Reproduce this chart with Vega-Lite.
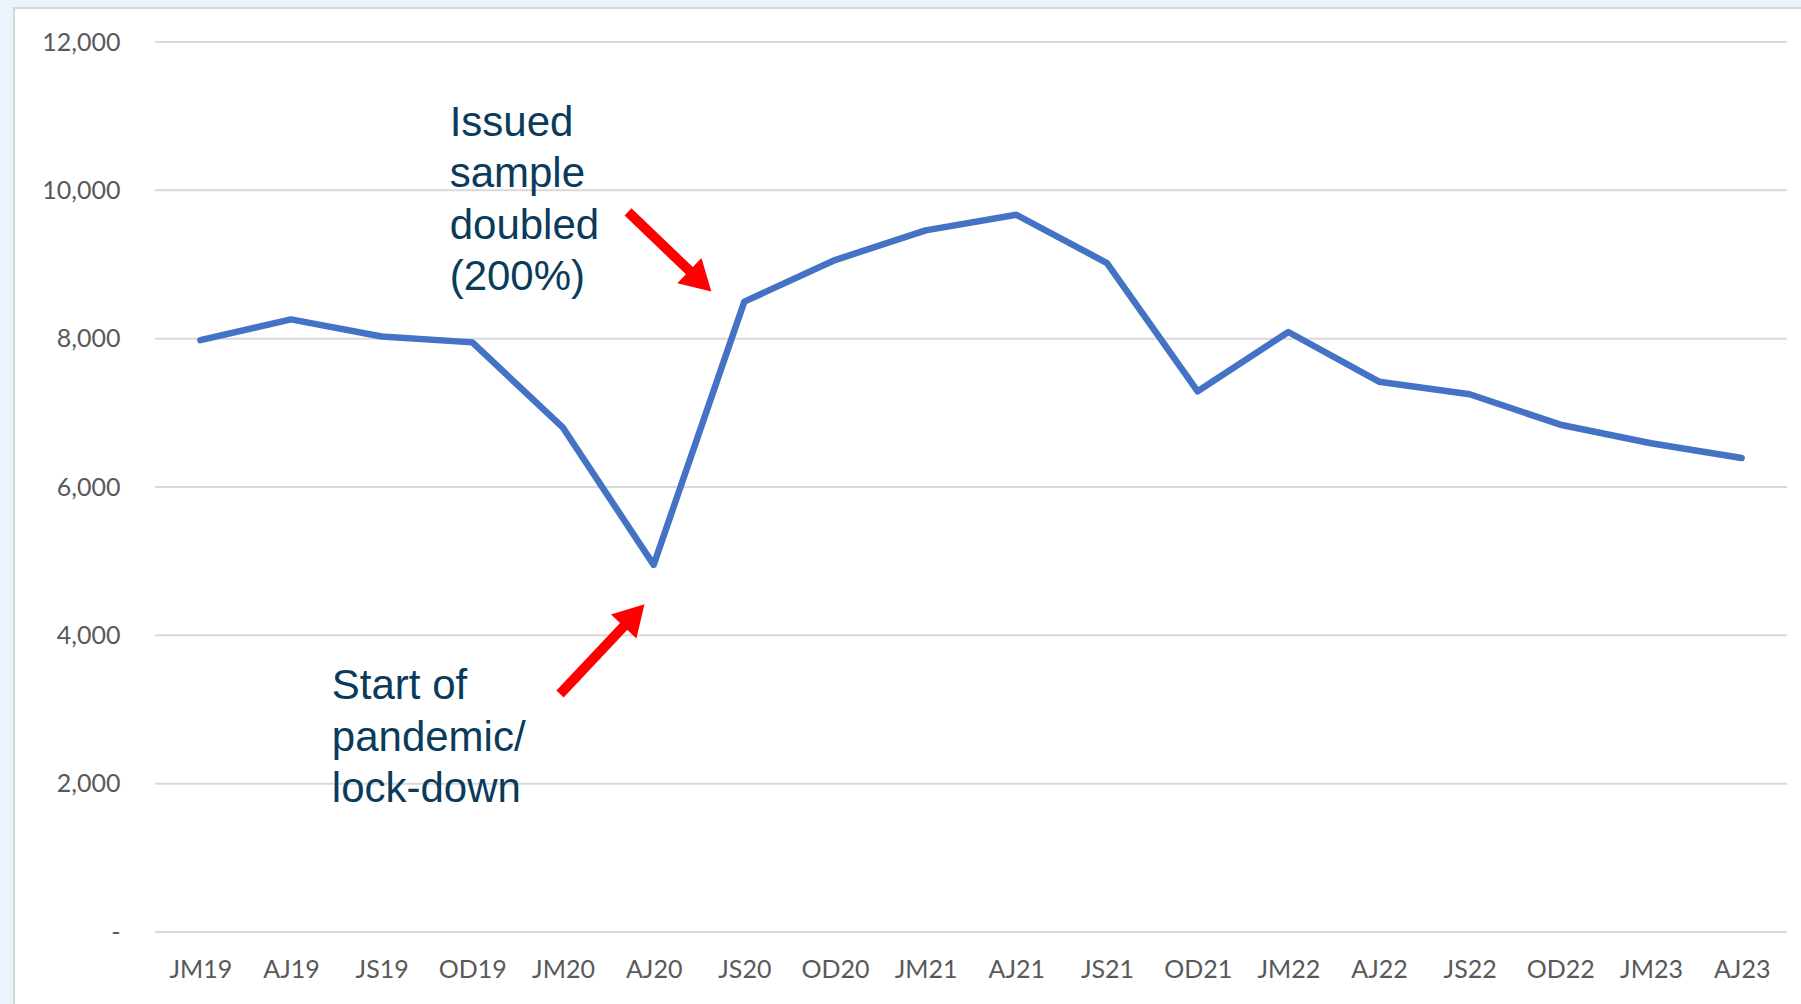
{
  "$schema": "https://vega.github.io/schema/vega-lite/v6.json",
  "width": 1632,
  "height": 890,
  "autosize": {"type": "none"},
  "padding": {"left": 155, "top": 42, "right": 14, "bottom": 72},
  "background": "#FFFFFF",
  "config": {"view": {"stroke": null}, "axis": {"zindex": 1}},
  "resolve": {"scale": {"x": "independent"}},
  "layer": [
    {
      "data": {"values": [{}]},
      "mark": {"type": "rect", "fill": "#EAF4FA", "clip": false},
      "encoding": {
        "x": {"datum": -1.75, "type": "quantitative", "scale": {"domain": [0, 18], "nice": false, "zero": false}, "axis": null},
        "x2": {"datum": -1.555},
        "y": {"datum": 12700, "type": "quantitative", "scale": {"domain": [0, 12000], "nice": false}},
        "y2": {"datum": -1100}
      }
    },
    {
      "data": {"values": [{}]},
      "mark": {"type": "rect", "fill": "#EAF4FA", "clip": false},
      "encoding": {
        "x": {"datum": -1.75, "type": "quantitative", "scale": {"domain": [0, 18], "nice": false, "zero": false}, "axis": null},
        "x2": {"datum": 19.5},
        "y": {"datum": 12700, "type": "quantitative", "scale": {"domain": [0, 12000], "nice": false}},
        "y2": {"datum": 12458}
      }
    },
    {
      "data": {"values": [{}]},
      "mark": {"type": "rect", "fill": null, "fillOpacity": 0, "stroke": "#D6D6D6", "strokeWidth": 2, "clip": false},
      "encoding": {
        "x": {"datum": -1.555, "type": "quantitative", "scale": {"domain": [0, 18], "nice": false, "zero": false}, "axis": null},
        "x2": {"datum": 19.5},
        "y": {"datum": 12458, "type": "quantitative", "scale": {"domain": [0, 12000], "nice": false}},
        "y2": {"datum": -2000}
      }
    },
    {
      "data": {"values": [{"g": 0}, {"g": 2000}, {"g": 4000}, {"g": 6000}, {"g": 8000}, {"g": 10000}, {"g": 12000}]},
      "mark": {"type": "rule", "stroke": "#D9D9D9", "strokeWidth": 2},
      "encoding": {
        "y": {
          "field": "g", "type": "quantitative", "scale": {"domain": [0, 12000], "nice": false},
          "axis": {"orient": "left", "title": null, "values": [0, 2000, 4000, 6000, 8000, 10000, 12000], "grid": false, "ticks": false, "domain": false,
                   "labelExpr": "datum.value == 0 ? '-\u00a0\u00a0\u00a0' : format(datum.value, ',')",
                   "labelFont": "Lato", "labelFontSize": 25,
                   "labelColor": "#595959", "labelPadding": 35, "zindex": 1}
        }
      }
    },
    {
      "data": {"values": [
        {"quarter": "JM19", "value": 7980},
        {"quarter": "AJ19", "value": 8260},
        {"quarter": "JS19", "value": 8030},
        {"quarter": "OD19", "value": 7950},
        {"quarter": "JM20", "value": 6800},
        {"quarter": "AJ20", "value": 4950},
        {"quarter": "JS20", "value": 8500},
        {"quarter": "OD20", "value": 9060},
        {"quarter": "JM21", "value": 9460},
        {"quarter": "AJ21", "value": 9670},
        {"quarter": "JS21", "value": 9020},
        {"quarter": "OD21", "value": 7290},
        {"quarter": "JM22", "value": 8090},
        {"quarter": "AJ22", "value": 7420},
        {"quarter": "JS22", "value": 7250},
        {"quarter": "OD22", "value": 6840},
        {"quarter": "JM23", "value": 6590},
        {"quarter": "AJ23", "value": 6390}
      ]},
      "mark": {"type": "line", "color": "#4472C4", "strokeWidth": 6.5, "strokeJoin": "round", "strokeCap": "round"},
      "encoding": {
        "x": {
          "field": "quarter", "type": "ordinal", "sort": null,
          "scale": {"type": "point", "padding": 0.5},
          "axis": {"orient": "bottom", "title": null, "labelAngle": 0, "ticks": false, "domain": false, "grid": false,
                   "labelFont": "Lato", "labelFontSize": 25,
                   "labelColor": "#595959", "labelPadding": 25, "zindex": 1}
        },
        "y": {
          "field": "value", "type": "quantitative",
          "scale": {"domain": [0, 12000], "nice": false}
        }
      }
    },
    {
      "data": {"values": [
        {"q1": 5.217, "v1": 9708, "q2": 6.015, "v2": 8776},
        {"q1": 4.467, "v1": 3209, "q2": 5.284, "v2": 4269}
      ]},
      "mark": {"type": "rule", "color": "#FF0000", "strokeWidth": 10, "strokeCap": "butt"},
      "encoding": {
        "x": {"field": "q1", "type": "quantitative", "scale": {"domain": [0, 18], "nice": false, "zero": false}, "axis": null},
        "x2": {"field": "q2"},
        "y": {"field": "v1", "type": "quantitative", "scale": {"domain": [0, 12000], "nice": false}},
        "y2": {"field": "v2"}
      }
    },
    {
      "data": {"values": [
        {"q": 6.015, "v": 8776, "angle": 133.6},
        {"q": 5.284, "v": 4269, "angle": 43.3}
      ]},
      "mark": {"type": "point", "shape": "triangle-up", "filled": true, "color": "#FF0000", "opacity": 1, "size": 1225},
      "encoding": {
        "x": {"field": "q", "type": "quantitative", "scale": {"domain": [0, 18], "nice": false, "zero": false}, "axis": null},
        "y": {"field": "v", "type": "quantitative", "scale": {"domain": [0, 12000], "nice": false}},
        "angle": {"field": "angle", "type": "quantitative", "scale": null}
      }
    },
    {
      "data": {"values": [
        {"q": 3.25, "v": 10739, "label": "Issued\nsample\ndoubled\n(200%)"},
        {"q": 1.95, "v": 3135, "label": "Start of\npandemic/\nlock-down"}
      ]},
      "mark": {"type": "text", "align": "left", "baseline": "alphabetic", "font": "Liberation Sans", "fontSize": 42, "lineHeight": 51.5, "lineBreak": "\n", "color": "#0A3B5B"},
      "encoding": {
        "x": {"field": "q", "type": "quantitative", "scale": {"domain": [0, 18], "nice": false, "zero": false}, "axis": null},
        "y": {"field": "v", "type": "quantitative", "scale": {"domain": [0, 12000], "nice": false}},
        "text": {"field": "label", "type": "nominal"}
      }
    }
  ]
}
